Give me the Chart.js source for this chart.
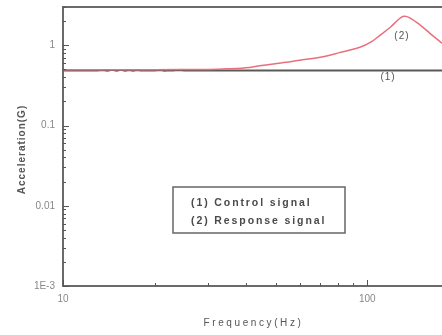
<!DOCTYPE html>
<html>
<head>
<meta charset="utf-8">
<script src="https://cdn.jsdelivr.net/npm/chart.js@4/dist/chart.umd.min.js"></script>
<style>
    html, body { margin: 0; padding: 0; background: #fff; }
    canvas { display: block; }
</style>
</head>
<body>
<canvas id="chart" width="442" height="335"></canvas>
<script>
// control signal (1), flat ~0.49 G with a little noise at low frequency
const ctrlFreq = [10, 11, 12, 13, 13.5, 14, 14.5, 15, 15.5, 16, 16.5, 17, 17.5, 18, 19, 20, 21, 21.5, 22, 23, 24, 25, 26, 28, 30, 40, 60, 100, 176];
const ctrlVal  = [0.485, 0.485, 0.485, 0.485, 0.492, 0.48, 0.493, 0.481, 0.494, 0.482, 0.492, 0.482, 0.49, 0.484, 0.485, 0.485, 0.491, 0.481, 0.485, 0.485, 0.491, 0.482, 0.485, 0.485, 0.485, 0.485, 0.485, 0.485, 0.485];

// response signal (2)
const respFreq = [10, 20, 30, 35, 41, 45, 52, 60, 70, 81, 95, 103, 110, 119, 128, 132, 138, 150, 161, 176];
const respVal  = [0.497, 0.497, 0.5, 0.51, 0.53, 0.56, 0.6, 0.65, 0.71, 0.81, 0.95, 1.1, 1.33, 1.68, 2.17, 2.3, 2.2, 1.76, 1.4, 1.06];

const yTickLabels = { '1': '1', '0.1': '0.1', '0.01': '0.01', '0.001': '1E-3' };
const xTickLabels = { '10': '10', '100': '100' };
const legendLines = ['(1) Control signal', '(2) Response signal'];

const toPts = (xs, ys) => xs.map((x, i) => ({ x: x, y: ys[i] }));

function isDecade(v) {
    const l = Math.log10(v);
    return Math.abs(l - Math.round(l)) < 1e-6;
}
function isWhole(v) {
    const m = v / Math.pow(10, Math.floor(Math.log10(v) + 1e-9));
    return Math.abs(m - Math.round(m)) < 1e-6;
}

const decor = {
    id: 'decor',
    afterDraw(chart) {
        const { ctx, chartArea: a, scales: { x, y } } = chart;
        ctx.save();

        // frame
        ctx.strokeStyle = '#6a6a6a';
        ctx.lineWidth = 2;
        ctx.beginPath();
        ctx.moveTo(a.right + 2, a.top);
        ctx.lineTo(a.left, a.top);
        ctx.lineTo(a.left, a.bottom);
        ctx.lineTo(a.right + 2, a.bottom);
        ctx.stroke();

        // inside ticks
        ctx.lineWidth = 1;
        ctx.strokeStyle = '#555';
        ctx.beginPath();
        y.ticks.forEach(t => {
            if (!isWhole(t.value)) return;
            const py = Math.round(y.getPixelForValue(t.value)) + 0.5;
            const len = isDecade(t.value) ? 6 : 3;
            ctx.moveTo(a.left, py);
            ctx.lineTo(a.left + len, py);
        });
        x.ticks.forEach(t => {
            if (!isWhole(t.value)) return;
            const px = Math.round(x.getPixelForValue(t.value)) + 0.5;
            const len = isDecade(t.value) ? 6 : 3;
            ctx.moveTo(px, a.bottom);
            ctx.lineTo(px, a.bottom - len);
        });
        ctx.stroke();

        // axis titles
        ctx.fillStyle = '#555';
        ctx.textAlign = 'center';
        ctx.textBaseline = 'middle';
        ctx.font = '10px "Liberation Sans", Arial, sans-serif';
        ctx.letterSpacing = '2.6px';
        ctx.fillText('Frequency(Hz)', (a.left + a.right) / 2 + 1, 323);

        ctx.save();
        ctx.translate(22, (a.top + a.bottom) / 2 + 3);
        ctx.rotate(-Math.PI / 2);
        ctx.font = 'bold 10px "Liberation Sans", Arial, sans-serif';
        ctx.letterSpacing = '1px';
        ctx.fillText('Acceleration(G)', 0, 0);
        ctx.restore();

        // curve labels
        ctx.font = '10px "Liberation Sans", Arial, sans-serif';
        ctx.letterSpacing = '1px';
        ctx.fillStyle = '#555';
        ctx.fillText('(2)', x.getPixelForValue(130), y.getPixelForValue(1.3));
        ctx.fillText('(1)', x.getPixelForValue(117), y.getPixelForValue(0.4));

        // legend box
        const bx = 173, by = 187, bw = 172, bh = 46;
        ctx.strokeStyle = '#666';
        ctx.lineWidth = 1.5;
        ctx.strokeRect(bx, by, bw, bh);
        ctx.textAlign = 'left';
        ctx.font = '600 10.5px "Liberation Sans", Arial, sans-serif';
        ctx.letterSpacing = '1.9px';
        ctx.fillStyle = '#4a4a4a';
        legendLines.forEach((s, i) => ctx.fillText(s, bx + 18, by + 16 + i * 18));

        ctx.restore();
    }
};

new Chart(document.getElementById('chart'), {
    type: 'line',
    data: {
        datasets: [
            {
                label: 'Response signal',
                data: toPts(respFreq, respVal),
                borderColor: '#e8707c',
                borderWidth: 1.5,
                pointRadius: 0,
                tension: 0.35,
                fill: false
            },
            {
                label: 'Control signal',
                data: toPts(ctrlFreq, ctrlVal),
                borderColor: '#5a5a5a',
                borderWidth: 1.8,
                pointRadius: 0,
                tension: 0,
                fill: false
            }
        ]
    },
    options: {
        responsive: false,
        animation: false,
        layout: { padding: { top: 7, right: 0, left: 0, bottom: 0 } },
        plugins: { legend: { display: false }, tooltip: { enabled: false } },
        scales: {
            x: {
                type: 'logarithmic',
                min: 10,
                max: 176,
                grid: { display: false, drawTicks: false },
                border: { display: false },
                afterFit: s => { s.height = 49; s.paddingLeft = 0; s.paddingRight = 0; },
                ticks: {
                    autoSkip: false,
                    maxRotation: 0,
                    padding: 7,
                    color: '#888',
                    font: { family: '"Liberation Sans", Arial, sans-serif', size: 10 },
                    callback: v => (isDecade(v) ? (xTickLabels[String(Math.round(v))] || '') : '')
                }
            },
            y: {
                type: 'logarithmic',
                min: 0.001,
                max: 3,
                grid: { display: false, drawTicks: false },
                border: { display: false },
                afterFit: s => { s.width = 63; s.paddingTop = 0; s.paddingBottom = 0; },
                ticks: {
                    autoSkip: false,
                    padding: 8,
                    color: '#888',
                    font: { family: '"Liberation Sans", Arial, sans-serif', size: 10 },
                    callback: v => {
                        if (!isDecade(v)) return '';
                        const k = String(Math.pow(10, Math.round(Math.log10(v))));
                        return yTickLabels[k] || '';
                    }
                }
            }
        }
    },
    plugins: [decor]
});
</script>
</body>
</html>
